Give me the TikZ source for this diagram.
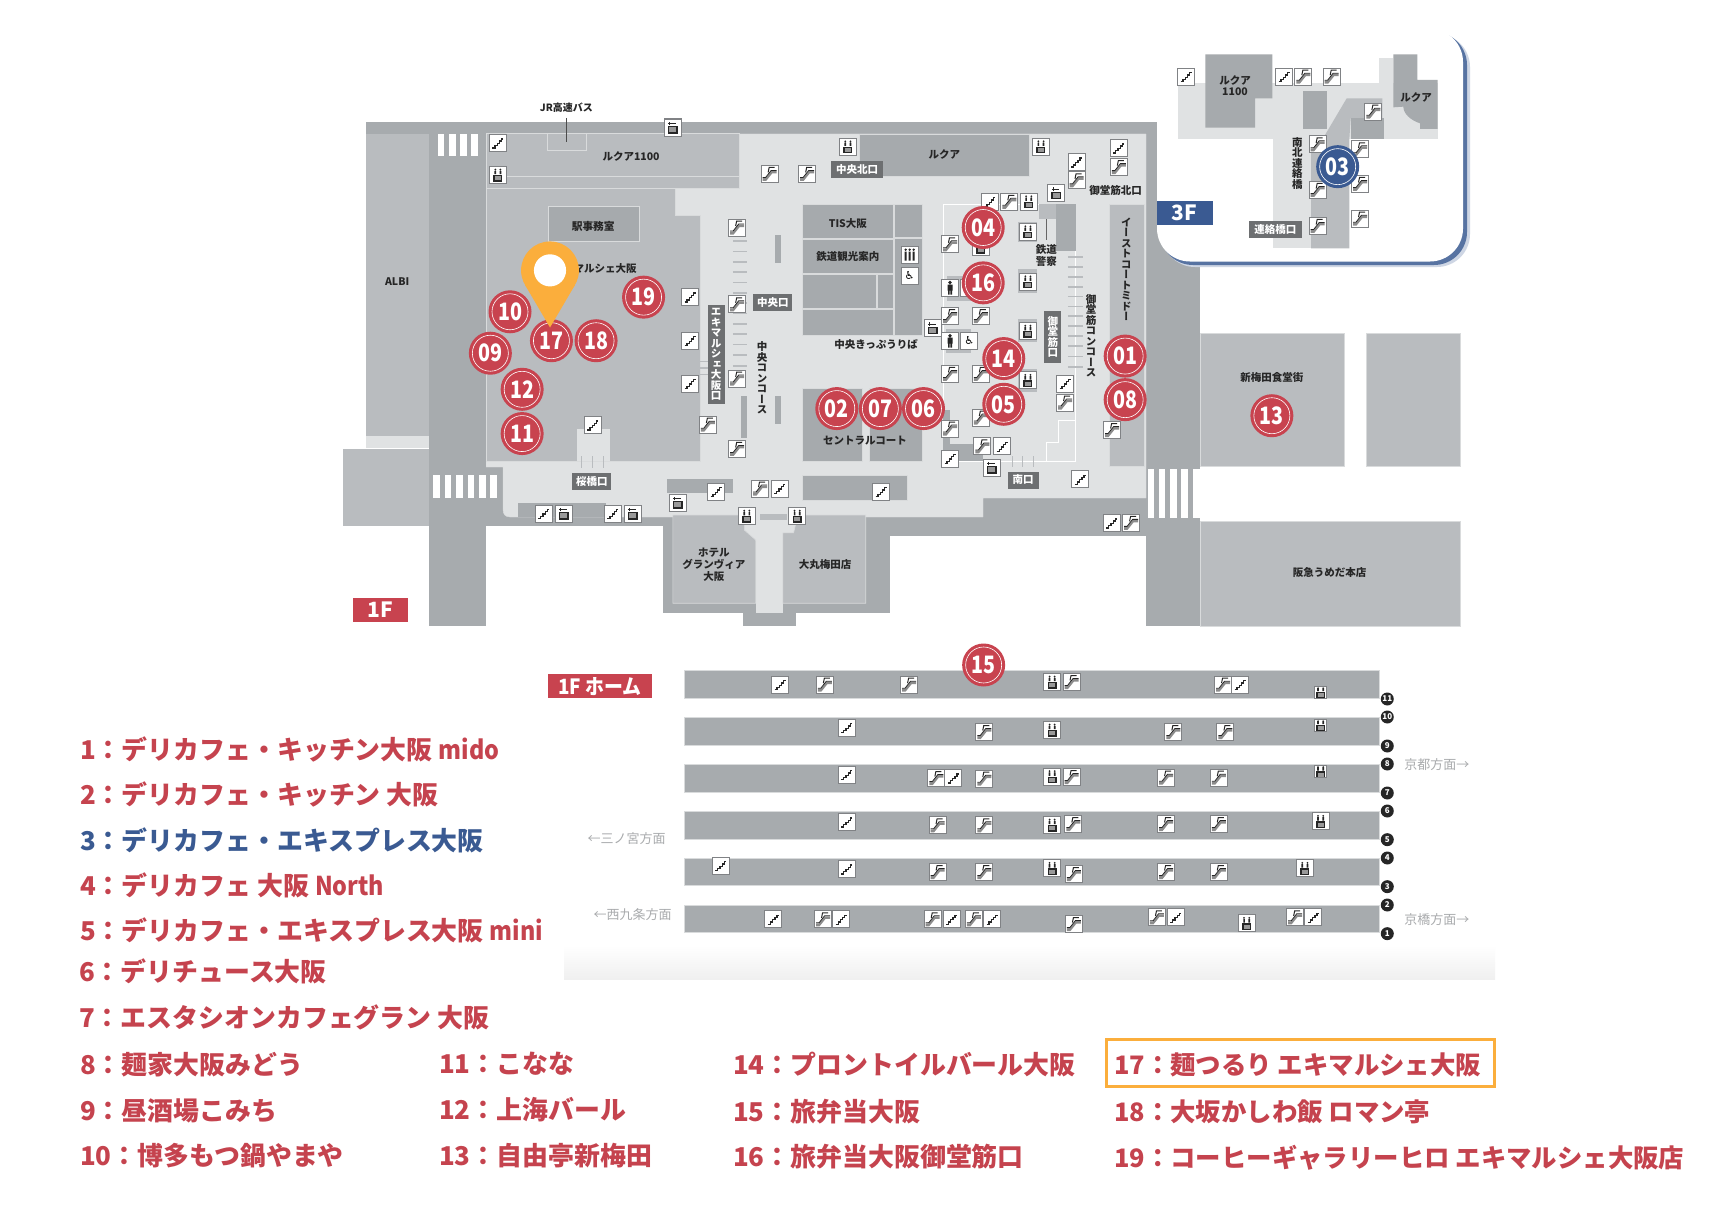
\documentclass[tikz,border=0pt]{standalone}
\usepackage{graphicx}
\usepackage{fontspec}
\setmainfont{Noto Sans CJK JP}
\newfontfamily\vfam{Noto Sans CJK JP}[RawFeature=+vert]
\newfontfamily\djv{DejaVu Sans}
\definecolor{road}{HTML}{A7ABAE}
\definecolor{bldg}{HTML}{B9BCBF}
\definecolor{blk}{HTML}{A6AAAD}
\definecolor{lite}{HTML}{E0E2E3}
\definecolor{edge}{HTML}{D9DBDC}
\definecolor{lbl}{HTML}{6D6F71}
\definecolor{rd}{HTML}{C8434F}
\definecolor{legr}{HTML}{C5434E}
\definecolor{bl}{HTML}{3A5A92}
\definecolor{org}{HTML}{FBAE3C}
\definecolor{dirc}{HTML}{A9ABAD}
\definecolor{icb}{HTML}{808285}
\tikzset{
 z1/.style={shift={(330pt,-90pt)},x=0.35714pt,y=-0.35714pt},
 z2/.style={shift={(880pt,-90pt)},x=0.39541pt,y=-0.35714pt},
 z3/.style={shift={(1140pt,-20pt)},x=0.33333pt,y=-0.33333pt},
 z4/.style={shift={(540pt,-640pt)},x=0.60606pt,y=-0.33333pt},
 b/.style={fill=bldg,draw=edge,line width=.6pt},
 k/.style={fill=blk,draw=edge,line width=.6pt},
 tx/.style={inner sep=0pt,align=center,text=black!85,font=\bfseries\fontsize{#1}{#1}\selectfont},
 tx/.default=10.5,
 vt/.style={inner sep=0pt,align=center,text=black!85,font=\vfam\bfseries\fontsize{#1}{#1}\selectfont},
 vt/.default=10.5,
 wl/.style={fill=lbl,text=white,inner sep=0pt,minimum width=#1,minimum height=17pt,font=\bfseries\fontsize{10.5}{10.5}\selectfont},
 vl/.style={fill=lbl,text=white,inner sep=0pt,align=center,font=\vfam\bfseries\fontsize{10.5}{10.5}\selectfont},
 badge/.style={circle,fill=#1,minimum size=43pt,inner sep=0pt,text=white,
   font=\bfseries\fontsize{24}{24}\selectfont,
   path picture={\draw[white,line width=.6pt] (path picture bounding box.center) circle (18pt);}},
 ic/.style={rectangle,draw=icb,fill=white,minimum size=17pt,inner sep=0pt,line width=1pt},
 stairicon/.style={ic,path picture={\draw[shift={(path picture bounding box.center)},line width=1.3pt,black!85]
   (-5.5pt,-5pt)--(-3pt,-5pt)--(-3pt,-2.8pt)--(-.7pt,-2.8pt)--(-.7pt,-.5pt)--(1.6pt,-.5pt)--(1.6pt,1.8pt)--(3.6pt,1.8pt)--(3.6pt,4pt)--(5.5pt,4pt);}},
 escicon/.style={ic,path picture={\begin{scope}[shift={(path picture bounding box.center)}]
   \fill[black!45] (-7pt,-7pt)--(-3.5pt,-7pt)--(2.5pt,.5pt)--(7pt,.5pt)--(7pt,3pt)--(1.5pt,3pt)--(-4pt,-4pt)--(-7pt,-4pt)--cycle;
   \draw[black!85,line width=.8pt] (-7pt,-3.5pt)--(-4pt,-3.5pt)--(1.5pt,3.5pt)--(7pt,3.5pt);
   \draw[black!85,line width=1pt] (-1.5pt,1.5pt)--(-.5pt,6.5pt)--(5pt,6.5pt);
   \end{scope}}},
 elevicon/.style={ic,path picture={\begin{scope}[shift={(path picture bounding box.center)}]
   \fill[black!85] (-4.5pt,-6.5pt) rectangle (4.5pt,0pt);
   \fill[black!40] (-3pt,-5.2pt) rectangle (3pt,-1.3pt);
   \fill[black!85] (-2.6pt,5.5pt) circle (1pt) (2.6pt,5.5pt) circle (1pt) (-3.4pt,.8pt) rectangle (-1.8pt,4.2pt) (1.8pt,.8pt) rectangle (3.4pt,4.2pt);
   \end{scope}}},
 smallelev/.style={elevicon,minimum size=12pt},
 lockicon/.style={ic,path picture={\begin{scope}[shift={(path picture bounding box.center)}]
   \fill[black!85] (-5pt,-6pt) rectangle (5pt,1.5pt);
   \fill[black!40] (-3.5pt,-4.6pt) rectangle (3.5pt,.2pt);
   \draw[black!85,line width=.9pt] (-4.5pt,4pt)--(3pt,4pt) (-3pt,2.5pt)--(-3pt,6pt);
   \end{scope}}},
 wcicon/.style={ic,path picture={\begin{scope}[shift={(path picture bounding box.center)}]
   \fill[black!85] (0pt,5pt) circle (1.8pt) (-2.5pt,-3pt) rectangle (2.5pt,3pt) (-2pt,-7pt) rectangle (-.4pt,-3pt) (.4pt,-7pt) rectangle (2pt,-3pt);
   \end{scope}}},
 resticon/.style={ic,path picture={\begin{scope}[shift={(path picture bounding box.center)}]
   \fill[black!85] (-4pt,5pt) circle (1.3pt) (0pt,5pt) circle (1.3pt) (4pt,5pt) circle (1.3pt)
    (-5pt,-6pt) rectangle (-3pt,3pt) (-1pt,-6pt) rectangle (1pt,3pt) (3pt,-6pt) rectangle (5pt,3pt);
   \end{scope}}},
 chairicon/.style={ic,font=\djv\fontsize{11}{11}\selectfont},
 trk/.style={circle,fill=black!85,text=white,minimum size=13pt,inner sep=0pt,font=\bfseries\fontsize{8}{8}\selectfont},
 dirt/.style={inner sep=0pt,text=dirc,font=\fontsize{13}{13}\selectfont},
 leg/.style={anchor=base west,inner sep=0pt,text=#1,font=\bfseries\fontsize{25.9}{26}\selectfont},
 leg/.default=legr,
 legs/.style={leg,font=\bfseries\fontsize{25.4}{26}\selectfont},
 flr/.style={fill=#1,text=white,inner sep=0pt,font=\bfseries\fontsize{21}{21}\selectfont},
}
\newcommand\nar[1]{\scalebox{.82}[1]{#1}}
\newcommand\lat[1]{\scalebox{.9}[1]{#1}}
\begin{document}
\begin{tikzpicture}[x=1pt,y=-1pt]
\useasboundingbox (0,0) rectangle (1713,1212);
\fill[white] (0,0) rectangle (1713,1212);
% platform backdrop
\shade[top color=white,bottom color=black!6] (564,945) rectangle (1495,979);

% ---------- base shapes, real coordinates
\fill[road] (366,122) rectangle (1155,134);
\fill[road] (1146,122) rectangle (1200,626);
\fill[road] (486,461) rectangle (1146,526);
\fill[road] (890,498) rectangle (1146,536);
\fill[road] (663,517) rectangle (890,613);
\fill[road] (743,600) rectangle (796,626);
\fill[lite,draw=edge] (739.6,134)--(1146,134)--(1146,498)--(983,498)--(983,517)--(510,517)
  .. controls (505,517) and (503,514) .. (503,509)--(503,467)--(486,467)--(486,461)--(700,461)--(700,216)--(675.7,216)--(675.7,188)--(739.6,188)--cycle;
% blocks straddling the two halves
\path[k] (859.6,134) rectangle (1029.5,176);
\path[k] (802.5,204.3) rectangle (893,237.9);
\path[k] (802.5,239.3) rectangle (893,272.9);
\path[k] (802.5,274.3) rectangle (876.4,307.9);
\path[k] (877.5,274.3) rectangle (893,307.9);
\path[k] (802.5,309.3) rectangle (893,335);
\path[k] (894.6,204.3) rectangle (922.7,237);
\path[k] (894.6,238.5) rectangle (922.7,335);
\path[k] (802.5,388.6) rectangle (862.1,461.4);
\path[k] (869.3,388.6) rectangle (922.7,461.4);
\path[k] (802.5,475) rectangle (907.7,500);

% ---------- right half
\begin{scope}[z2]
\path[b] (810,680) rectangle (1175,1055);
\path[b] (1230,680) rectangle (1468,1055);
\path[b] (810,1207) rectangle (1468,1502);
\foreach \a/\c in {677/693,705/721,733/750,762/778,791/808} \fill[white] (\a,1062) rectangle (\c,1197);
\path[b] (581,320) rectangle (668,1055);
\draw[white,line width=.8pt] (160,320)--(495,320)--(495,1040)--(160,1040);
\draw[white,line width=.8pt] (160,320)--(160,990);
\draw[white,line width=.8pt] (495,925)--(450,925)--(450,988)--(420,988)--(420,1040);
\fill[bldg] (402,320) rectangle (445,362);
\fill[road] (445,320) rectangle (495,452);
\draw[black!60,line width=.4pt] (421,362)--(421,420);
\fill[road] (160,895) rectangle (178,1040);
\fill[road] (160,990) rectangle (260,1040);
\foreach \a in {335,360,388} \draw[bldg,line width=1pt] (\a,1025)--(\a,1056);
\foreach \y in {468,496,523,551,578,606,633,661,688,716,746,775} \draw[bldg,line width=1.6pt] (475,\y)--(513,\y);
\foreach \a/\b/\c/\d in {170/520/230/590,168/668/230/735,350/370/398/425,350/502/398/567,350/640/398/705,350/780/398/845}
  \fill[bldg] (\a,\b) rectangle (\c,\d);
\node[tx] (tRu) at (163,181) {ルクア};
\node[tx] (tMk) at (596,282) {御堂筋北口};
\node[tx] (tPo) at (421,463) {鉄道\\[1.5pt]警察};
\node[tx] (tSh) at (991,806) {新梅田食堂街};
\node[tx] (tHa) at (1137,1350) {阪急うめだ本店};
\node[vt] (tEa) at (623,502) {イ\\ー\\ス\\ト\\コ\\ー\\ト\\ミ\\ド\\ー};
\node[vt] (tMc) at (534,688) {御\\堂\\筋\\コ\\ン\\コ\\ー\\ス};
\node[vl,minimum width=17pt,minimum height=52pt] (tMg) at (437,692) {御\\堂\\筋\\口};
\node[wl=31pt] (tMi) at (362,1092) {南口};
\foreach \p [count=\i] in {(604,162),(497,202),(278,313),(468,822),(586,1212),(177,1032),(309,998),(507,1090)} \node[stairicon] (bs\i) at \p {};
\foreach \p [count=\i] in {(604,216),(497,253),(327,313),(177,432),(177,633),(255,633),(177,795),(255,795),(255,917),(468,875),(587,952),(177,948),(259,998),(635,1212)} \node[escicon] (be\i) at \p {};
\foreach \p [count=\i] in {(407,159),(376,313),(374,397),(374,537),(374,675),(374,813),(255,440)} \node[elevicon] (bv\i) at \p {};
\foreach \p [count=\i] in {(446,289),(133,667),(283,1057)} \node[lockicon] (bl\i) at \p {};
\node[resticon] (br1) at (75,461) {};
\foreach \p [count=\i] in {(177,553),(177,702)} \node[wcicon] (bw\i) at \p {};
\foreach \p [count=\i] in {(75,520),(226,702),(225,555)} \node[chairicon] (bc\i) at \p {♿};
\foreach \p/\n in {(261,385)/04,(261,540)/16,(313,752)/14,(313,880)/05,(110,892)/06,(620,745)/01,(620,867)/08,(991,912)/13}
  \node[badge=rd] (p\n) at \p {\nar{\n}};
\end{scope}

% ---------- left half
\begin{scope}[z1]
\fill[bldg] (100,122) rectangle (277,970);
\fill[lite] (100,970) rectangle (277,1003);
\fill[bldg] (36,1005) rectangle (277,1220);
\fill[road] (277,90) rectangle (437,1502);
\foreach \a/\c in {301/320,333/352,365/384,396/414} \fill[white] (\a,123) rectangle (\c,185);
\foreach \a/\c in {289/308,321/340,353/372,385/404,417/436,449/467} \fill[white] (\a,1078) rectangle (\c,1141);
\path[b] (437,122) rectangle (1147,274);
\draw[edge,line width=.8pt] (470,241)--(1147,241);
\draw[edge,line width=.8pt] (608,122)--(608,170)--(718,170)--(718,122);
\draw[black!70,line width=.5pt] (662,78)--(662,146);
\path[b] (437,275)--(968,275)--(968,352)--(1037,352)--(1037,1040)--(437,1040)--cycle;
\path[k] (610,327) rectangle (866,425);
\fill[lite] (692,950) rectangle (783,1040);
\foreach \a in {705,735,765} \draw[bldg,line width=1pt] (\a,1025)--(\a,1058);
\foreach \y in {423,452,481,510,539,568,597,626,655,684,713,742,773} \draw[bldg,line width=1.6pt] (1128,\y)--(1168,\y);
\foreach \y in {760,778,796} \draw[bldg,line width=1.4pt] (1037,\y)--(1057,\y);
\fill[road] (1247,407) rectangle (1263,484);
\fill[road] (1247,858) rectangle (1263,935);
\fill[road] (1150,858) rectangle (1167,975);
\fill[road] (943,1090) rectangle (1127,1128);
\fill[road] (525,1157) rectangle (773,1195);
% hotel and Daimaru
\fill[lite] (1192,1190) rectangle (1268,1465);
\fill[lite] (1155,1190) rectangle (1315,1262);
\path[b] (960,1190)--(1160,1190)--(1160,1232)--(1192,1260)--(1192,1437)--(960,1437)--cycle;
\path[b] (1310,1190)--(1500,1190)--(1500,1437)--(1268,1437)--(1268,1240)--(1298,1240)--cycle;
\fill[bldg] (1205,1188) rectangle (1280,1205);
% texts
\node[tx=10] (tJR) at (662,50) {JR高速バス};
\node[tx] (tLu) at (843,185) {ルクア1100};
\node[tx=10.7] (tEki) at (737,382) {駅事務室};
\node[tx] (tMa) at (741,500) {エキマルシェ大阪};
\node[tx] (tAl) at (188,536) {ALBI};
\node[tx] (tTIS) at (1450,374) {TIS大阪};
\node[tx] (tKan) at (1450,466) {鉄道観光案内};
\node[tx] (tHo) at (1075,1330) {ホテル\\[1.5pt]グランヴィア\\[1.5pt]大阪};
\node[tx] (tDa) at (1386,1328) {大丸梅田店};
\node[vt] (tCc) at (1210,806) {中\\央\\コ\\ン\\コ\\ー\\ス};
\node[vl,minimum width=17pt,minimum height=99pt] (tEq) at (1081,741) {エ\\キ\\マ\\ル\\シ\\ェ\\大\\阪\\口};
\node[wl=39pt] (tCe) at (1240,595) {中央口};
\node[wl=39pt] (tSa) at (733,1095) {桜橋口};
\node[wl=52pt] (tKi) at (1476,222) {中央北口};
\node[tx] (tCs) at (1529,713) {中央きっぷうりば};
\node[tx] (tCt) at (1498,983) {セントラルコート};
\node[flr=rd,minimum width=55pt,minimum height=24pt] (f1) at (140.5,1456) {1F};
% icons
\foreach \p [count=\i] in {(470,148),(1008,580),(1008,702),(1008,822),(736,938),(1081,1125),(1259,1116),(598,1186),(792,1186),(1543,1125)} \node[stairicon] (as\i) at \p {};
\foreach \p [count=\i] in {(1231,235),(1336,235),(1140,385),(1140,600),(1140,808),(1058,937),(1140,1005),(1204,1116)} \node[escicon] (ae\i) at \p {};
\foreach \p [count=\i] in {(470,238),(1450,159),(1167,1193),(1308,1193)} \node[elevicon] (av\i) at \p {};
\foreach \p [count=\i] in {(960,105),(654,1186),(847,1186),(974,1155)} \node[lockicon] (al\i) at \p {};
% badges and pin
\foreach \p/\n in {(504,621)/10,(449,737)/09,(620,702)/17,(745,702)/18,(538,838)/12,(538,962)/11,(878,580)/19,(1419,892)/02,(1541,892)/07}
  \node[badge=rd] (p\n) at \p {\nar{\n}};
\fill[org] (616,505) circle[radius=81];
\fill[org] (546.2,546)--(616,665)--(685.8,546)--cycle;
\fill[white] (616,505) circle[radius=45];
\end{scope}

% ---------- 3F card
\fill[bl!25,rounded corners=33pt] (1162,34) rectangle (1470,267);
\fill[bl!85,rounded corners=33pt] (1160,32) rectangle (1467,265);
\fill[white,rounded corners=33pt] (1157,29) rectangle (1463,261.5);
\begin{scope}[z3]
\fill[lite] (115,188) rectangle (893,357);
\fill[lite] (718,115) rectangle (760,188);
\fill[lite] (400,357) rectangle (628,685);
\fill[blk] (196,103)--(397,103)--(397,235)--(345,235)--(345,323)--(196,323)--cycle;
\fill[blk] (490,214) rectangle (560,328);
\fill[bldg] (620,235)--(727,235)--(727,295)--(632,295)--(628,357)--(628,685)--(513,685)--(513,395)--(555,345)--cycle;
\fill[blk] (632,295) rectangle (732,357);
\fill[blk] (760,103)--(832,103)--(832,180)--(893,180)--(893,327)--(840,327)--(840,310) .. controls (810,300) and (790,280) .. (790,260)--(760,262)--cycle;
\node[tx] (tL2) at (285,197) {ルクア\\[1pt]1100};
\node[tx] (tL3) at (828,233) {ルクア};
\node[vt] (tNa) at (472,430) {南\\北\\連\\絡\\橋};
\node[wl=53pt] (tRe) at (406,629) {連絡橋口};
\node[flr=bl,minimum width=56pt,minimum height=24pt] (f3) at (134,578.5) {3F};
\foreach \p [count=\i] in {(138,170),(432,170)} \node[stairicon] (cs\i) at \p {};
\foreach \p [count=\i] in {(490,170),(575,170),(700,275),(533,373),(660,388),(533,510),(660,492),(533,618),(660,596)} \node[escicon] (ce\i) at \p {};
\node[badge=bl] (p03) at (593,440) {\nar{03}};
\end{scope}

% ---------- platforms
\begin{scope}[z4]
\foreach \a/\c in {92/175,233/315,374/456,515/597,655/737,797/878} \path[fill=road,draw=edge,line width=.6pt] (238,\a) rectangle (1385,\c);
\foreach \p [count=\i] in {(396,134),(1155,134),(506,263),(506,404),(682,414),(506,546),(298,677),(506,687),(385,838),(497,838),(679,838),(746,838),(1049,832),(1276,832)} \node[stairicon] (ds\i) at \p {};
\foreach \p [count=\i] in {(470,134),(609,134),(877,126),(1127,134),(733,276),(1045,276),(1131,276),(654,414),(733,416),(877,411),(1033,413),(1120,413),(656,556),(733,556),(880,552),(1033,552),(1120,552),(656,696),(733,696),(881,702),(1033,696),(1120,696),(467,838),(648,838),(716,838),(881,852),(1018,832),(1246,832)} \node[escicon] (de\i) at \p {};
\foreach \p [count=\i] in {(845,126),(845,270),(845,410),(845,555),(1288,544),(845,685),(1262,685),(1166,850)} \node[elevicon] (dv\i) at \p {};
\foreach \p [count=\i] in {(1288,156),(1288,255),(1288,394)} \node[smallelev] (dw\i) at \p {};
\foreach \y/\n in {177/11,231/10,318/9,372/8,459/7,513/6,599/5,654/4,740/3,795/2,881/1} \node[trk] (k\n) at (1398,\y) {\n};
\node[dirt] (dK) at (1480,375) {京都方面→};
\node[dirt] (dH) at (1480,838) {京橋方面→};
\node[dirt] (dS) at (143,597) {←三ノ宮方面};
\node[dirt] (dN) at (153,823) {←西九条方面};
\node[flr=rd,minimum width=104pt,minimum height=24pt] (fH) at (99,139) {\scalebox{.9}[1]{1F ホーム}};
\node[badge=rd] (p15) at (732,75) {\nar{15}};
\end{scope}

% ---------- legend
\node[leg] (l1) at (80,759.5) {1：デリカフェ・キッチン大阪 \lat{mido}};
\node[leg] (l2) at (80,804.5) {2：デリカフェ・キッチン 大阪};
\node[leg=bl] (l3) at (80,850) {3：デリカフェ・エキスプレス大阪};
\node[leg] (l4) at (80,895) {4：デリカフェ 大阪 \lat{North}};
\node[leg] (l5) at (80,940.5) {5：デリカフェ・エキスプレス大阪 \lat{mini}};
\node[leg] (l6) at (79,981) {6：デリチュース大阪};
\node[leg] (l7) at (79,1027) {7：エスタシオンカフェグラン 大阪};
\node[leg] (l8) at (80,1074.5) {8：麺家大阪みどう};
\node[leg] (l9) at (80,1120.5) {9：昼酒場こみち};
\node[leg] (l10) at (80,1165) {10：博多もつ鍋やまや};
\node[leg] (l11) at (439,1073.5) {11：こなな};
\node[leg] (l12) at (439,1119.5) {12：上海バール};
\node[leg] (l13) at (439,1165) {13：自由亭新梅田};
\node[leg] (l14) at (733,1074.5) {14：プロントイルバール大阪};
\node[leg] (l15) at (733,1121) {15：旅弁当大阪};
\node[leg] (l16) at (733,1166) {16：旅弁当大阪御堂筋口};
\node[legs] (l17) at (1114,1074.5) {17：麺つるり エキマルシェ大阪};
\node[legs] (l18) at (1114,1121) {18：大坂かしわ飯 ロマン亭};
\node[legs] (l19) at (1114,1167.5) {19：コーヒーギャラリーヒロ エキマルシェ大阪店};
\draw[org,line width=3pt] (1106,1039) rectangle (1494,1086);
\end{tikzpicture}
\end{document}
